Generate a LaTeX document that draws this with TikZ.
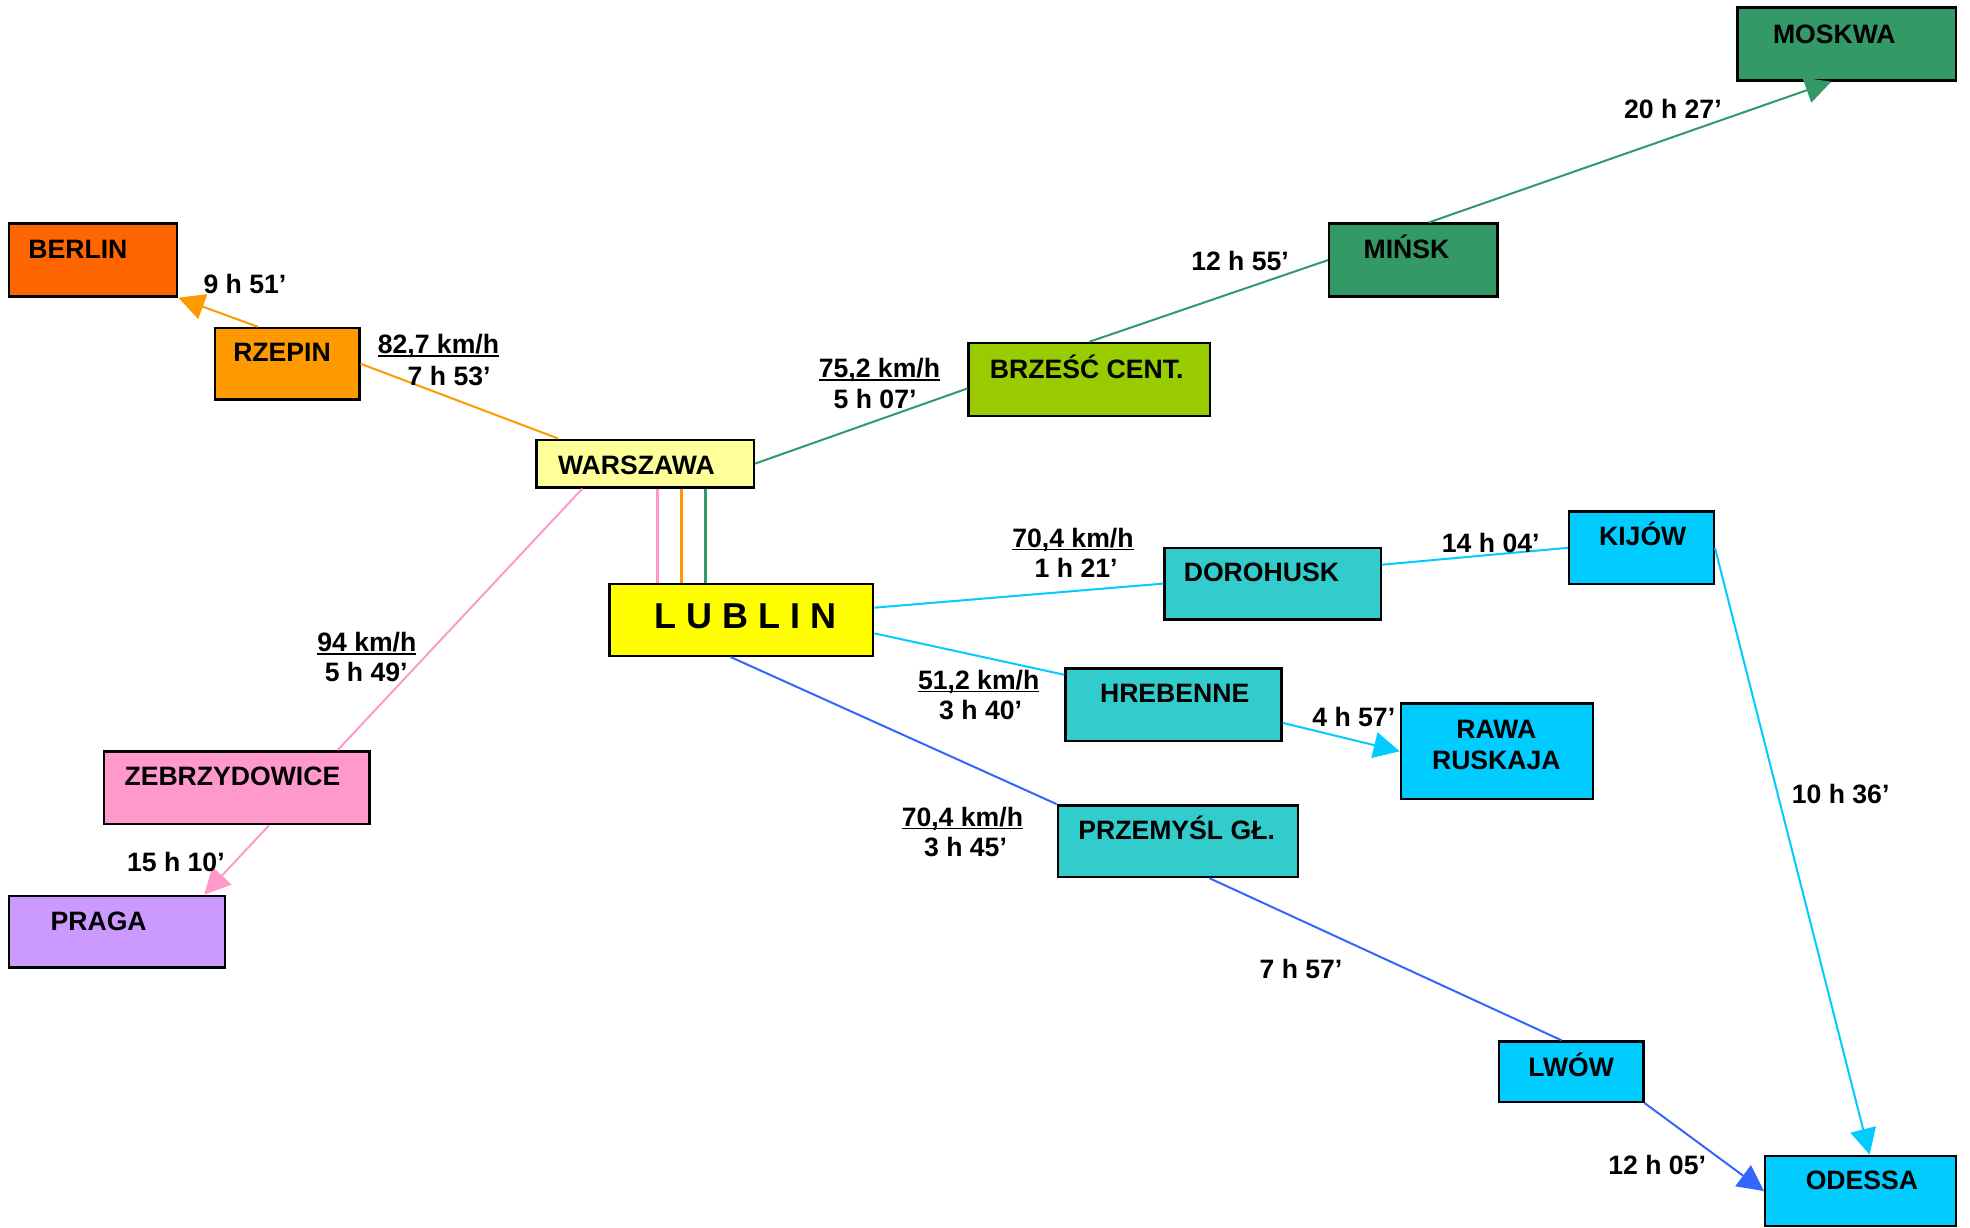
\documentclass[tikz,border=0pt]{standalone}
\usepackage{fontspec}
\setmainfont{Liberation Sans}
\usetikzlibrary{arrows.meta,fit,calc}
\definecolor{cBerlin}{HTML}{FF6600}
\definecolor{cOrange}{HTML}{FF9900}
\definecolor{cWarsaw}{HTML}{FFFF99}
\definecolor{cBrzesc}{HTML}{99CC00}
\definecolor{cGreen}{HTML}{339966}
\definecolor{cLublin}{HTML}{FFFF00}
\definecolor{cTeal}{HTML}{33CCCC}
\definecolor{cCyan}{HTML}{00CCFF}
\definecolor{cPink}{HTML}{FF99CC}
\definecolor{cPraga}{HTML}{CC99FF}
\definecolor{cBlue}{HTML}{3366FF}
\newcommand\myul[1]{{\setbox0\hbox{#1}\rlap{\rule[-1.6pt]{\wd0}{0.8pt}}\box0}}
\begin{document}
\begin{tikzpicture}[x=0.628pt,y=-0.628pt,
  box/.style={draw=black, line width=1.2pt, inner sep=0pt},
  city/.style={font=\fontsize{13.3}{16}\bfseries\selectfont, inner sep=0pt, anchor=base},
  big/.style={font=\fontsize{18}{20}\bfseries\selectfont, inner sep=0pt, anchor=base},
  tm/.style={font=\fontsize{13.3}{16}\bfseries\selectfont, inner sep=0pt, anchor=base},
  link/.style={line width=1pt},
  vlink/.style={line width=1.4pt},
  arr/.style={-{Triangle[length=13pt,width=13pt]}}]
\useasboundingbox (0,0) rectangle (1568,977);
% boxes
\node[box, fill=cGreen,  fit={(1383,6)(1557,64)}]   (moskwa) {};
\node[box, fill=cBerlin, fit={(7,178)(141,236)}]    (berlin) {};
\node[box, fill=cOrange, fit={(171,261)(286,318)}]  (rzepin) {};
\node[box, fill=cWarsaw, fit={(427,350)(600,388)}]  (warszawa) {};
\node[box, fill=cBrzesc, fit={(771,273)(963,331)}]  (brzesc) {};
\node[box, fill=cGreen,  fit={(1058,178)(1192,236)}] (minsk) {};
\node[box, fill=cLublin, fit={(485,465)(695,522)}]  (lublin) {};
\node[box, fill=cTeal,   fit={(927,436)(1099,493)}] (dorohusk) {};
\node[box, fill=cCyan,   fit={(1249,407)(1364,465)}] (kijow) {};
\node[box, fill=cTeal,   fit={(848,532)(1020,590)}] (hrebenne) {};
\node[box, fill=cCyan,   fit={(1115,560)(1268,636)}] (rawa) {};
\node[box, fill=cTeal,   fit={(842,641)(1033,698)}] (przemysl) {};
\node[box, fill=cPink,   fit={(83,598)(294,656)}]   (zebrzydowice) {};
\node[box, fill=cPraga,  fit={(7,713)(179,770)}]    (praga) {};
\node[box, fill=cCyan,   fit={(1193,829)(1308,877)}] (lwow) {};
\node[box, fill=cCyan,   fit={(1405,920)(1557,976)}] (odessa) {};
% connectors
\draw[link, cOrange, arr] ($(rzepin.north west)!0.3!(rzepin.north east)$) -- (berlin.south east);
\draw[link, cOrange] ($(warszawa.north west)!0.104!(warszawa.north east)$) -- (rzepin.east);
\draw[link, cGreen] (warszawa.east) -- ($(brzesc.north west)!0.62!(brzesc.south west)$);
\draw[link, cGreen] (brzesc.north) -- (minsk.west);
\draw[link, cGreen, arr] ($(minsk.north west)!0.59!(minsk.north east)$) -- ($(moskwa.south west)!0.43!(moskwa.south east)$);
\coordinate (wp) at ($(warszawa.south west)!0.555!(warszawa.south east)$);
\coordinate (wo) at ($(warszawa.south west)!0.665!(warszawa.south east)$);
\coordinate (wg) at ($(warszawa.south west)!0.775!(warszawa.south east)$);
\draw[vlink, cPink] (wp) -- (wp |- lublin.north);
\draw[vlink, cOrange] (wo) -- (wo |- lublin.north);
\draw[vlink, cGreen] (wg) -- (wg |- lublin.north);
\draw[link, cPink] ($(warszawa.south west)!0.214!(warszawa.south east)$) -- ($(zebrzydowice.north west)!0.877!(zebrzydowice.north east)$);
\draw[link, cPink, arr] ($(zebrzydowice.south west)!0.62!(zebrzydowice.south east)$) -- ($(praga.north west)!0.9!(praga.north east)$);
\draw[link, cCyan] ($(lublin.north east)!0.333!(lublin.south east)$) -- (dorohusk.west);
\draw[link, cCyan] ($(dorohusk.north east)!0.245!(dorohusk.south east)$) -- (kijow.west);
\draw[link, cCyan, arr] (kijow.east) -- ($(odessa.north west)!0.546!(odessa.north east)$);
\draw[link, cCyan] ($(lublin.north east)!0.68!(lublin.south east)$) -- ($(hrebenne.north west)!0.1!(hrebenne.south west)$);
\draw[link, cCyan, arr] ($(hrebenne.north east)!0.74!(hrebenne.south east)$) -- (rawa.west);
\draw[link, cBlue] ($(lublin.south west)!0.46!(lublin.south east)$) -- (przemysl.north west);
\draw[link, cBlue] ($(przemysl.south west)!0.63!(przemysl.south east)$) -- ($(lwow.north west)!0.435!(lwow.north east)$);
\draw[link, cBlue, arr] (lwow.south east) -- (odessa.west);
% city names
\node[city] (moskwa-t) at (1460,34.5) {MOSKWA};
\node[city] (berlin-t) at (62,205.5) {BERLIN};
\node[city] (rzepin-t) at (224.5,287.5) {RZEPIN};
\node[city] (warszawa-t) at (506.5,377.5) {WARSZAWA};
\node[city] (brzesc-t) at (865,301.5) {BRZEŚĆ CENT.};
\node[city] (minsk-t) at (1119.5,205.5) {MIŃSK};
\node[big] (lublin-t) at (593,500) {L U B L I N};
\node[city] (dorohusk-t) at (1004,462.5) {DOROHUSK};
\node[city] (kijow-t) at (1307.5,434.5) {KIJÓW};
\node[city] (hrebenne-t) at (935,559.5) {HREBENNE};
\node[city] (rawa-t1) at (1191,587.5) {RAWA};
\node[city] (rawa-t2) at (1191,612.5) {RUSKAJA};
\node[city] (przemysl-t) at (936.5,668.5) {PRZEMYŚL GŁ.};
\node[city] (zebrzydowice-t) at (185,625.5) {ZEBRZYDOWICE};
\node[city] (praga-t) at (78.5,740.5) {PRAGA};
\node[city] (lwow-t) at (1250.5,856.5) {LWÓW};
\node[city] (odessa-t) at (1482,946.5) {ODESSA};
% times
\node[tm] (t1) at (195,233.5) {9 h 51’};
\node[tm] (t2a) at (349,281.5) {\myul{82,7 km/h}};
\node[tm] (t2b) at (357.5,306.5) {7 h 53’};
\node[tm] (t3a) at (700,300.5) {\myul{75,2 km/h}};
\node[tm] (t3b) at (696.5,325.5) {5 h 07’};
\node[tm] (t4) at (987,215.5) {12 h 55’};
\node[tm] (t5) at (1331.5,94.5) {20 h 27’};
\node[tm] (t6a) at (854,435.5) {\myul{70,4 km/h}};
\node[tm] (t6b) at (856.5,459.5) {1 h 21’};
\node[tm] (t7) at (1186.5,439.5) {14 h 04’};
\node[tm] (t8a) at (292,518.5) {\myul{94 km/h}};
\node[tm] (t8b) at (291.5,542.5) {5 h 49’};
\node[tm] (t9) at (140,693.5) {15 h 10’};
\node[tm] (t10a) at (779,548.5) {\myul{51,2 km/h}};
\node[tm] (t10b) at (780.5,572.5) {3 h 40’};
\node[tm] (t11) at (1077.5,578.5) {4 h 57’};
\node[tm] (t12a) at (766,657.5) {\myul{70,4 km/h}};
\node[tm] (t12b) at (768.5,681.5) {3 h 45’};
\node[tm] (t13) at (1035.5,778.5) {7 h 57’};
\node[tm] (t14) at (1465,639.5) {10 h 36’};
\node[tm] (t15) at (1319,934.5) {12 h 05’};
\end{tikzpicture}
\end{document}
